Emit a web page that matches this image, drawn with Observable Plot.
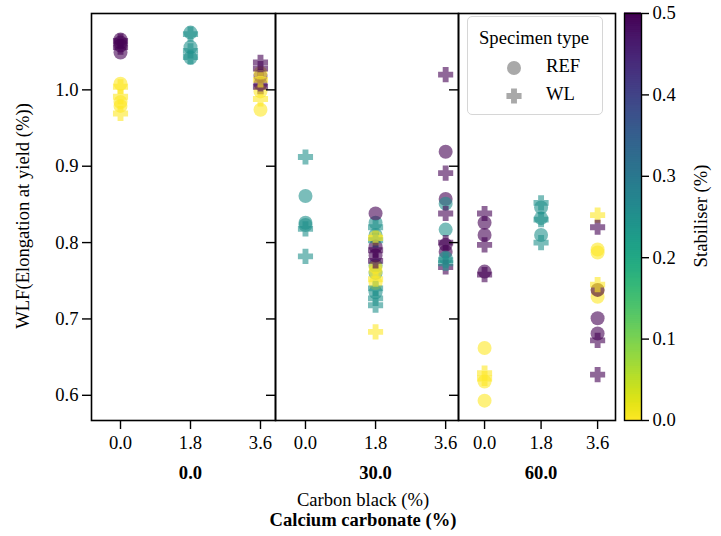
<!DOCTYPE html>
<html>
<head>
<meta charset="utf-8">
<script src="https://cdn.jsdelivr.net/npm/d3@7"></script>
<script src="https://cdn.jsdelivr.net/npm/@observablehq/plot@0.6"></script>
<style>
  body { margin: 0; background: #fff; }
  #root { position: relative; width: 721px; height: 536px; font-family: "Liberation Serif", "DejaVu Serif", serif; }
  #root > svg, #root > div { position: absolute; top: 0; }
  #root svg, #root svg text { font-family: "Liberation Serif", "DejaVu Serif", serif !important; }
  #root svg g[aria-label$="tick label"] text { font-size: 18.6px; }
</style>
</head>
<body>
<div id="root"></div>
<script>
// ---------- data: [carbon black (%), stabiliser (%), specimen type, WLF] ----------
const calcium0 = [
  [0, 0.5, "REF", 1.066], [0, 0.5, "REF", 1.062], [0, 0.5, "WL", 1.064], [0, 0.5, "REF", 1.058],
  [0, 0.5, "WL", 1.056], [0, 0.5, "REF", 1.049],
  [0, 0, "REF", 1.008], [0, 0, "WL", 1.004], [0, 0, "WL", 0.991], [0, 0, "REF", 0.984],
  [0, 0, "REF", 0.979], [0, 0, "WL", 0.969],
  [1.8, 0.25, "REF", 1.075], [1.8, 0.25, "WL", 1.073], [1.8, 0.25, "REF", 1.056],
  [1.8, 0.25, "WL", 1.051], [1.8, 0.25, "REF", 1.042], [1.8, 0.25, "WL", 1.043],
  [3.6, 0.5, "WL", 1.036], [3.6, 0.5, "WL", 1.028], [3.6, 0.5, "REF", 1.018], [3.6, 0.5, "REF", 1.008],
  [3.6, 0.5, "WL", 1.004],
  [3.6, 0, "REF", 1.022], [3.6, 0, "WL", 1.013], [3.6, 0, "REF", 0.998], [3.6, 0, "WL", 0.988],
  [3.6, 0, "REF", 0.974]
];
const calcium30 = [
  [0, 0.25, "WL", 0.912], [0, 0.25, "REF", 0.861], [0, 0.25, "REF", 0.826], [0, 0.25, "REF", 0.823],
  [0, 0.25, "WL", 0.818], [0, 0.25, "WL", 0.782],
  [1.8, 0.25, "REF", 0.826], [1.8, 0.25, "WL", 0.820], [1.8, 0.25, "REF", 0.810], [1.8, 0.25, "WL", 0.803],
  [1.8, 0.25, "REF", 0.770], [1.8, 0.25, "REF", 0.760], [1.8, 0.25, "WL", 0.740], [1.8, 0.25, "REF", 0.735],
  [1.8, 0.25, "WL", 0.727], [1.8, 0.25, "WL", 0.718],
  [1.8, 0, "WL", 0.806], [1.8, 0, "REF", 0.807], [1.8, 0, "REF", 0.768], [1.8, 0, "REF", 0.762],
  [1.8, 0, "WL", 0.752], [1.8, 0, "REF", 0.747], [1.8, 0, "WL", 0.683],
  [1.8, 0.5, "REF", 0.838], [1.8, 0.5, "REF", 0.795], [1.8, 0.5, "WL", 0.790], [1.8, 0.5, "REF", 0.783],
  [1.8, 0.5, "WL", 0.776],
  [3.6, 0.5, "WL", 1.020], [3.6, 0.5, "REF", 0.919], [3.6, 0.5, "WL", 0.891], [3.6, 0.5, "REF", 0.857],
  [3.6, 0.5, "WL", 0.838], [3.6, 0.5, "WL", 0.800], [3.6, 0.5, "REF", 0.797], [3.6, 0.5, "REF", 0.788],
  [3.6, 0.5, "WL", 0.768],
  [3.6, 0.25, "REF", 0.851], [3.6, 0.25, "REF", 0.817], [3.6, 0.25, "REF", 0.780], [3.6, 0.25, "WL", 0.777],
  [3.6, 0.25, "WL", 0.773]
];
const calcium60 = [
  [0, 0.5, "WL", 0.838], [0, 0.5, "REF", 0.826], [0, 0.5, "REF", 0.810], [0, 0.5, "WL", 0.797],
  [0, 0.5, "REF", 0.762], [0, 0.5, "WL", 0.758],
  [0, 0, "REF", 0.662], [0, 0, "WL", 0.629], [0, 0, "WL", 0.622], [0, 0, "REF", 0.618], [0, 0, "REF", 0.593],
  [1.8, 0.25, "WL", 0.852], [1.8, 0.25, "REF", 0.846], [1.8, 0.25, "REF", 0.832], [1.8, 0.25, "WL", 0.830],
  [1.8, 0.25, "REF", 0.810], [1.8, 0.25, "WL", 0.800],
  [3.6, 0, "WL", 0.836], [3.6, 0, "REF", 0.791], [3.6, 0, "REF", 0.787], [3.6, 0, "WL", 0.745],
  [3.6, 0, "REF", 0.738], [3.6, 0, "REF", 0.729],
  [3.6, 0.5, "WL", 0.820], [3.6, 0.5, "REF", 0.738], [3.6, 0.5, "REF", 0.701], [3.6, 0.5, "REF", 0.681],
  [3.6, 0.5, "WL", 0.672], [3.6, 0.5, "WL", 0.627]
];
const calciumLevels = [0, 30, 60];
const carbonTicks = [0, 1.8, 3.6];
const yTicks = [0.6, 0.7, 0.8, 0.9, 1.0];
const stabTicks = [0, 0.1, 0.2, 0.3, 0.4, 0.5];
const specimenTypes = ["REF", "WL"];

// ---------- helpers ----------
const FONT = "Liberation Serif";
const FS = 18.6;
const root = document.getElementById("root");
const H = 536, MT = 13, MB = 116;
const yDomain = [0.567, 1.1];
const colorOpts = {type: "linear", scheme: "viridis", domain: [0, 0.5], reverse: true};
const plotStyle = {fontFamily: FONT, fontSize: FS + "px", background: "transparent", overflow: "visible", color: "black"};

// filled "P"-style plus marker
const plusSymbol = {
  draw(ctx, size) {
    const r = Math.sqrt(size / Math.PI);
    const a = r * 1.08, b = r * 0.42;
    ctx.moveTo(-b, -a); ctx.lineTo(b, -a); ctx.lineTo(b, -b); ctx.lineTo(a, -b);
    ctx.lineTo(a, b); ctx.lineTo(b, b); ctx.lineTo(b, a); ctx.lineTo(-b, a);
    ctx.lineTo(-b, b); ctx.lineTo(-a, b); ctx.lineTo(-a, -b); ctx.lineTo(-b, -b);
    ctx.closePath();
  }
};

const toRows = (arr) => arr.map(([cb, stab, type, wlf]) => ({cb, stab, type, wlf}));

const panels = [
  {data: calcium0, left: 0, marginLeft: 91, inner: 184, xDomain: [-0.746, 3.986], labels: true},
  {data: calcium30, left: 245, marginLeft: 30, inner: 183, xDomain: [-0.77, 3.93], labels: false},
  {data: calcium60, left: 428, marginLeft: 30, inner: 157, xDomain: [-0.83, 4.17], labels: false}
];

panels.forEach((p, i) => {
  const rows = toRows(p.data);
  const svg = Plot.plot({
    width: p.marginLeft + p.inner,
    height: H,
    marginLeft: p.marginLeft, marginRight: 0, marginTop: MT, marginBottom: MB,
    style: plotStyle,
    x: {domain: p.xDomain},
    y: {domain: yDomain},
    color: colorOpts,
    marks: [
      Plot.dot(rows.filter(d => d.type === specimenTypes[0]), {x: "cb", y: "wlf", fill: "stab", r: 7, fillOpacity: 0.6, symbol: "circle"}),
      Plot.dot(rows.filter(d => d.type === specimenTypes[1]), {x: "cb", y: "wlf", fill: "stab", r: 7, fillOpacity: 0.6, symbol: plusSymbol}),
      Plot.frame({stroke: "black", strokeWidth: 1.6}),
      Plot.axisX({ticks: carbonTicks, tickFormat: d => d.toFixed(1), tickSize: 9, tickPadding: 6, strokeWidth: 1.4, fontSize: FS, label: null}),
      Plot.axisY({ticks: yTicks, tickFormat: p.labels ? (d => d.toFixed(1)) : (() => ""), tickSize: 9, tickPadding: 4, strokeWidth: 1.4, fontSize: FS, label: null}),
      Plot.text([carbonTicks[1]], {x: d => d, frameAnchor: "bottom", dy: 58, text: () => calciumLevels[i].toFixed(1), fontWeight: "bold", fontSize: FS})
    ]
  });
  svg.setAttribute("font-family", FONT);
  svg.style.left = p.left + "px";
  root.appendChild(svg);
});

// ---------- colorbar ----------
const step = 0.0025;
const ramp = d3.range(0, 0.5, step);
const cbar = Plot.plot({
  width: 121, height: H,
  marginLeft: 24, marginRight: 80, marginTop: MT, marginBottom: MB,
  style: plotStyle,
  y: {domain: [0, 0.5]},
  color: colorOpts,
  marks: [
    Plot.rect(ramp, {y1: d => d, y2: d => d + step, fill: d => d + step / 2, insetTop: -0.6, insetBottom: -0.6}),
    Plot.frame({stroke: "black", strokeWidth: 1.4}),
    Plot.axisY({anchor: "right", ticks: stabTicks, tickFormat: d => d.toFixed(1), tickSize: 7, tickPadding: 4, strokeWidth: 1.4, fontSize: FS, label: null})
  ]
});
cbar.setAttribute("font-family", FONT);
cbar.style.left = "600px";
root.appendChild(cbar);

// ---------- legend ----------
const legend = document.createElement("div");
Object.assign(legend.style, {left: "467px", top: "16px", width: "136px", height: "99px", boxSizing: "border-box",
  border: "1.5px solid #d6d6d6", borderRadius: "5px", background: "rgba(255,255,255,0.85)"});
const ls = d3.create("svg").attr("width", 133).attr("height", 96)
  .style("position", "absolute").style("left", "0px").style("top", "0px")
  .style("font-family", FONT).style("font-size", FS + "px");
ls.append("text").attr("x", 66).attr("y", 23).attr("text-anchor", "middle").attr("dominant-baseline", "middle").text("Specimen type");
const legendSymbols = [d3.symbolCircle, plusSymbol];
specimenTypes.forEach((t, k) => {
  const yy = 51 + k * 28;
  ls.append("path").attr("transform", `translate(46,${yy})`)
    .attr("d", d3.symbol(legendSymbols[k], 49 * Math.PI)()).attr("fill", "#a9a9a9");
  ls.append("text").attr("x", 78).attr("y", yy).attr("dominant-baseline", "middle").text(t);
});
legend.appendChild(ls.node());
root.appendChild(legend);

// ---------- axis titles ----------
const ov = d3.create("svg").attr("width", 721).attr("height", 536)
  .style("position", "absolute").style("left", "0px").style("top", "0px").style("pointer-events", "none")
  .style("font-family", FONT).style("font-size", FS + "px");
ov.append("text").attr("transform", "translate(25,216) rotate(-90)").attr("text-anchor", "middle")
  .attr("dominant-baseline", "middle").text("WLF(Elongation at yield (%))");
ov.append("text").attr("x", 363).attr("y", 502).attr("text-anchor", "middle").attr("dominant-baseline", "middle").text("Carbon black (%)");
ov.append("text").attr("x", 363).attr("y", 522).attr("text-anchor", "middle").attr("dominant-baseline", "middle")
  .attr("font-weight", "bold").text("Calcium carbonate (%)");
ov.append("text").attr("transform", "translate(703,216) rotate(-90)").attr("text-anchor", "middle")
  .attr("dominant-baseline", "middle").text("Stabiliser (%)");
root.appendChild(ov.node());
</script>
</body>
</html>
